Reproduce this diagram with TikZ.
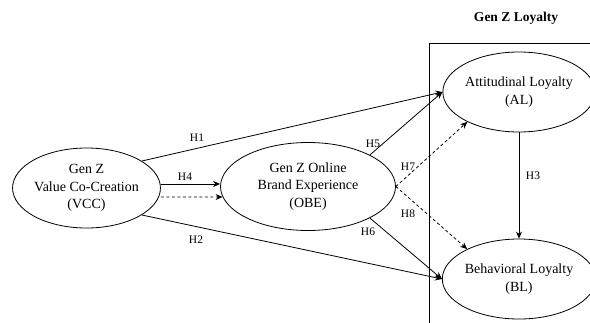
\documentclass[tikz,border=0pt]{standalone}
\usepackage{fontspec}
\setmainfont{Liberation Serif}
\usetikzlibrary{shapes.geometric,arrows.meta}
\begin{document}
\begin{tikzpicture}[x=1pt,y=-1pt,
  construct/.style={ellipse,draw,line width=0.8pt,inner sep=0pt,align=center,
    font=\fontsize{14}{17.5}\selectfont},
  hlabel/.style={inner sep=0pt,font=\fontsize{11.5}{13}\selectfont},
  link/.style={line width=0.8pt,-{Stealth[length=7pt,width=6pt]}},
  dlink/.style={link,dash pattern=on 3pt off 2.5pt}]
\useasboundingbox (0,0) rectangle (590,322);
\node[inner sep=0pt,font=\bfseries\fontsize{13.5}{15}\selectfont] (title) at (516,18) {Gen Z Loyalty};
\coordinate (boxtr) at (592,43.5);
\coordinate (boxtl) at (429.5,43.5);
\coordinate (boxbl) at (429.5,324);
\draw[line width=0.8pt] (boxtr) -- (boxtl) -- (boxbl);

\node[construct,minimum width=146pt,minimum height=80pt] (vcc) at (86.5,188) {Gen Z\\Value Co-Creation\\(VCC)};
\node[construct,minimum width=175pt,minimum height=88pt] (obe) at (308,186.5) {Gen Z Online\\Brand Experience\\(OBE)};
\node[construct,minimum width=144pt,minimum height=80pt] (al) at (519,92) {Attitudinal Loyalty\\(AL)};
\node[construct,minimum width=144pt,minimum height=80pt] (bl) at (519,279) {Behavioral Loyalty\\(BL)};

\draw[link] (vcc.26) -- (al.west);
\draw[link] (vcc.-26) -- (bl.west);
\draw[link] ([yshift=4pt]vcc.east) -- ([yshift=2.5pt]obe.west);
\draw[dlink] ([yshift=-9pt]vcc.east) -- (obe.187.5);
\draw[link] (obe.27) -- (al.west);
\draw[link] (obe.-27) -- (bl.west);
\draw[dlink] (obe.east) -- (al.210);
\draw[dlink] (obe.east) -- (bl.150);
\draw[link] (al.south) -- (bl.north);

\node[hlabel] (h1) at (197,138) {H1};
\node[hlabel] (h2) at (196,240) {H2};
\node[hlabel] (h3) at (533,176) {H3};
\node[hlabel] (h4) at (185,177) {H4};
\node[hlabel] (h5) at (373,144) {H5};
\node[hlabel] (h6) at (368,232) {H6};
\node[hlabel] (h7) at (408,167) {H7};
\node[hlabel] (h8) at (408,214) {H8};
\end{tikzpicture}
\end{document}
